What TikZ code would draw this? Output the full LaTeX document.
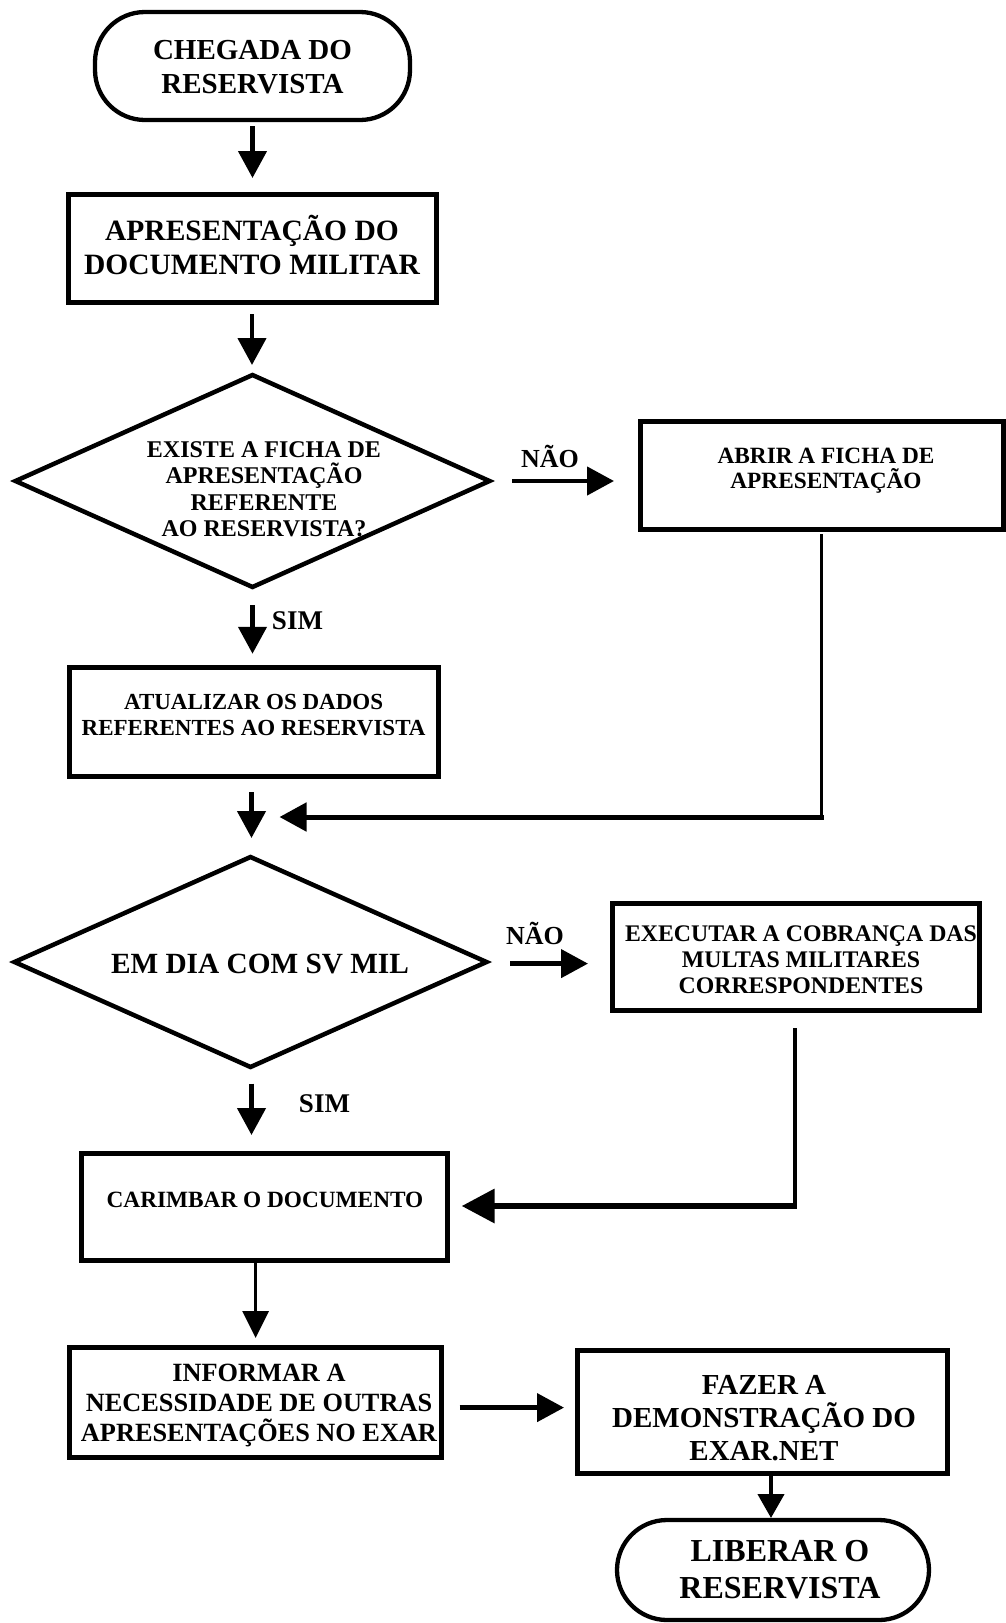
\documentclass[tikz,border=0pt]{standalone}
\usepackage{fontspec}
\setmainfont{Liberation Serif}
\usetikzlibrary{arrows.meta,shapes.geometric}
\begin{document}
\begin{tikzpicture}[x=1pt,y=-1pt,
  procbox/.style={draw,rectangle,line width=5pt,inner sep=0pt,outer sep=0pt},
  termbox/.style={draw,rectangle,rounded corners=50pt,line width=4.3pt,inner sep=0pt,outer sep=0pt},
  decbox/.style={draw,diamond,line width=4.5pt,inner sep=0pt,outer sep=0pt},
  txt/.style={align=center,inner sep=0pt,outer sep=0pt},
  arr/.style={line width=4.5pt,-{Triangle[width=28pt,length=27pt]}},
  thinarr/.style={line width=3.2pt,-{Triangle[width=26pt,length=27pt]}},
  bigarr/.style={line width=6.5pt,-{Triangle[width=33pt,length=33pt]}}
]
\useasboundingbox (0,0) rectangle (1005,1623);

% nodes
\node[termbox,minimum width=315pt,minimum height=108pt] (t1) at (252.5,66) {};
\node[txt,font={\fontsize{29}{34}\selectfont\bfseries}] (t1x) at (252.5,67) {CHEGADA DO\\RESERVISTA};

\node[procbox,minimum width=368pt,minimum height=108pt] (b2) at (252,248) {};
\node[txt,font={\fontsize{29.5}{34}\selectfont\bfseries}] (b2x) at (252,245) {APRESENTAÇÃO DO\\DOCUMENTO MILITAR};

\node[decbox,minimum width=474pt,minimum height=212pt] (d1) at (252.5,481) {};
\node[txt,font={\fontsize{24}{26.5}\selectfont\bfseries}] (d1x) at (264,489) {EXISTE A FICHA DE\\APRESENTAÇÃO\\REFERENTE\\AO RESERVISTA?};
\node[txt,font={\fontsize{26}{30}\selectfont\bfseries}] (nao1) at (550,456) {NÃO};

\node[procbox,minimum width=363pt,minimum height=108pt] (b3) at (821.5,475) {};
\node[txt,font={\fontsize{23.3}{24.8}\selectfont\bfseries}] (b3x) at (826,471) {ABRIR A FICHA DE\\APRESENTAÇÃO};

\node[txt,font={\fontsize{27}{30}\selectfont\bfseries}] (sim1) at (297.5,621) {SIM};

\node[procbox,minimum width=369pt,minimum height=108.5pt] (b4) at (253.5,722) {};
\node[txt,font={\fontsize{23}{25.6}\selectfont\bfseries}] (b4x) at (253.6,715) {ATUALIZAR OS DADOS\\REFERENTES AO RESERVISTA};

\node[decbox,minimum width=472pt,minimum height=210pt] (d2) at (250.5,962) {};
\node[txt,font={\fontsize{29.3}{33}\selectfont\bfseries}] (d2x) at (260,964) {EM DIA COM SV MIL};
\node[txt,font={\fontsize{26}{30}\selectfont\bfseries}] (nao2) at (535,933) {NÃO};

\node[procbox,minimum width=367pt,minimum height=107pt] (b5) at (796,957) {};
\node[txt,font={\fontsize{23.8}{25.8}\selectfont\bfseries}] (b5x) at (801,960) {EXECUTAR A COBRANÇA DAS\\MULTAS MILITARES\\CORRESPONDENTES};

\node[txt,font={\fontsize{27}{30}\selectfont\bfseries}] (sim2) at (324.5,1104) {SIM};

\node[procbox,minimum width=366pt,minimum height=107pt] (b6) at (264,1207) {};
\node[txt,font={\fontsize{23.3}{26}\selectfont\bfseries}] (b6x) at (265,1199.5) {CARIMBAR O DOCUMENTO};

\node[procbox,minimum width=372pt,minimum height=110pt] (b7) at (255,1402) {};
\node[txt,font={\fontsize{26.3}{30}\selectfont\bfseries}] (b7x) at (259,1405) {INFORMAR A\\NECESSIDADE DE OUTRAS\\APRESENTAÇÕES NO EXAR};

\node[procbox,minimum width=370pt,minimum height=123pt] (b8) at (762,1412) {};
\node[txt,font={\fontsize{29}{33}\selectfont\bfseries}] (b8x) at (764,1418) {FAZER A\\DEMONSTRAÇÃO DO\\EXAR.NET};

\node[termbox,minimum width=312pt,minimum height=100pt] (t2) at (773,1570) {};
\node[txt,font={\fontsize{32}{37}\selectfont\bfseries}] (t2x) at (780,1570) {LIBERAR O\\RESERVISTA};

% coordinates for free ends
\coordinate (c1) at (821.5,817);
\coordinate (m1) at (279.5,817);
\coordinate (c2) at (795,1206);
\coordinate (m2) at (461.6,1206);

% connectors
\draw[arr] ([yshift=-6pt]t1.south) -- ([yshift=16pt]t1.south |- b2.north);
\draw[arr] ([yshift=-12pt]b2.south) -- ([yshift=10pt]b2.south |- d1.north);
\draw[arr] ([xshift=22.5pt]d1.east) -- ([xshift=-26pt]d1.east -| b3.west);
\draw[line width=2.5pt] ([yshift=-5pt]b3.south) -- (c1);
\draw[line width=5pt,-{Triangle[width=28pt,length=27pt]}] ([xshift=2pt]c1) -- (m1);
\draw[arr] ([yshift=-18pt]d1.south) -- ([yshift=14pt]d1.south |- b4.north);
\draw[arr] ([xshift=-2pt,yshift=-16pt]b4.south) -- ([xshift=-2pt,yshift=19pt]b4.south |- d2.north);
\draw[arr] ([xshift=23.5pt,yshift=-1.6pt]d2.east) -- ([xshift=-24.5pt,yshift=-1.6pt]d2.east -| b5.west);
\draw[line width=3.5pt] ([xshift=-1pt,yshift=-17.5pt]b5.south) -- (c2);
\draw[bigarr] ([xshift=1.75pt]c2) -- (m2);
\draw[arr] ([xshift=1pt,yshift=-16.6pt]d2.south) -- ([xshift=1pt,yshift=18.5pt]d2.south |- b6.north);
\draw[thinarr] ([xshift=-8.4pt]b6.south) -- ([xshift=-8.4pt,yshift=9pt]b6.south |- b7.north);
\draw[line width=4.3pt,-{Triangle[width=28pt,length=27pt]}] ([xshift=18.5pt,yshift=-5.6pt]b7.east) -- ([xshift=-13pt,yshift=-5.6pt]b7.east -| b8.west);
\draw[line width=4.3pt,-{Triangle[width=26pt,length=24pt]}] ([xshift=9pt]b8.south) -- ([xshift=9pt,yshift=2pt]b8.south |- t2.north);
\end{tikzpicture}
\end{document}
